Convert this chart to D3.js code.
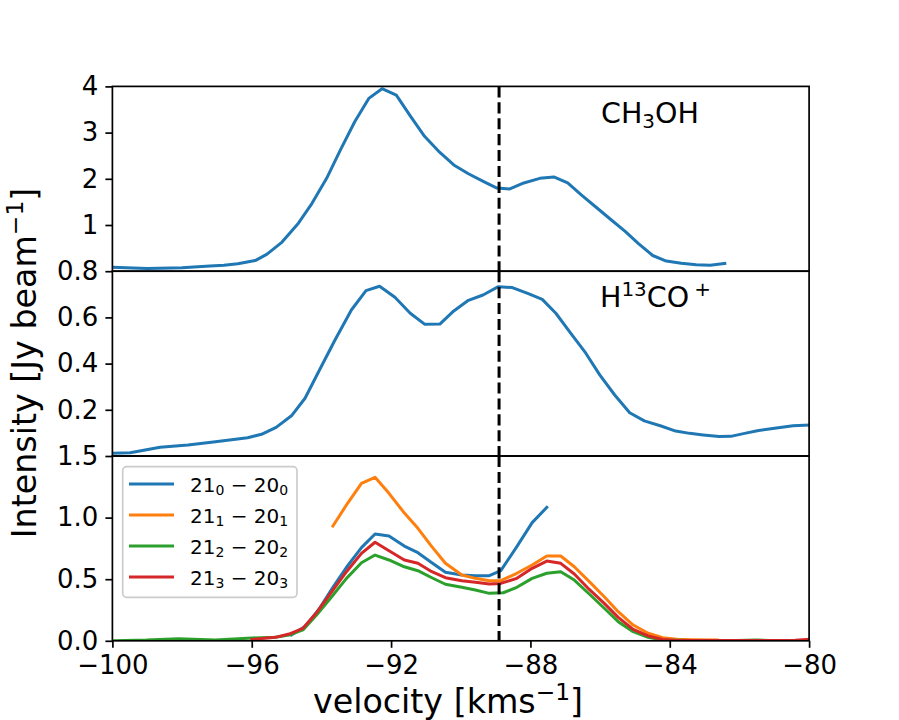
<!DOCTYPE html>
<html>
<head>
<meta charset="utf-8">
<script src="https://cdn.jsdelivr.net/npm/d3@7"></script>
<style>
body { margin: 0; background: #fff; }
svg { display: block; font-family: "DejaVu Sans", sans-serif; }
</style>
</head>
<body>
<div id="container"></div>
<script>
// top panel: CH3OH
const velCH3OH = [-100, -99.0, -98.0, -97.2, -96.8, -96.4, -95.9, -95.56, -95.13, -94.66, -94.27, -93.85, -93.45, -93.04, -92.64, -92.26, -91.85, -91.44, -91.04, -90.6, -90.2, -89.78, -89.34, -88.96, -88.59, -88.19, -87.73, -87.33, -86.93, -86.54, -86.14, -85.71, -85.28, -84.89, -84.49, -84.1, -83.67, -83.24, -82.84, -82.42];
const intCH3OH = [0.085, 0.06, 0.075, 0.11, 0.13, 0.16, 0.23, 0.37, 0.63, 1.04, 1.47, 2.01, 2.63, 3.24, 3.74, 3.95, 3.81, 3.35, 2.92, 2.57, 2.30, 2.11, 1.94, 1.80, 1.78, 1.91, 2.01, 2.04, 1.91, 1.65, 1.40, 1.13, 0.86, 0.59, 0.34, 0.22, 0.17, 0.14, 0.13, 0.17];

// middle panel: H13CO+
const velH13CO = [-100, -99.49, -98.63, -97.83, -97.04, -96.12, -95.72, -95.3, -94.86, -94.47, -94.07, -93.61, -93.14, -92.72, -92.33, -91.89, -91.45, -91.03, -90.6, -90.2, -89.78, -89.36, -88.92, -88.52, -88.06, -87.66, -87.27, -86.84, -86.41, -86.01, -85.58, -85.15, -84.73, -84.25, -83.83, -83.43, -83.04, -82.58, -82.25, -81.85, -81.45, -80.99, -80.46, -80.0];
const intH13CO = [0.012, 0.014, 0.038, 0.048, 0.062, 0.079, 0.094, 0.124, 0.174, 0.25, 0.368, 0.502, 0.632, 0.716, 0.735, 0.687, 0.618, 0.570, 0.571, 0.628, 0.674, 0.697, 0.733, 0.729, 0.703, 0.678, 0.618, 0.531, 0.445, 0.351, 0.264, 0.187, 0.152, 0.130, 0.108, 0.098, 0.091, 0.084, 0.085, 0.098, 0.110, 0.120, 0.131, 0.134];

// bottom panel: four transitions
const vel210 = [-94.86, -94.47, -94.07, -93.67, -93.28, -92.85, -92.46, -92.06, -91.62, -91.23, -90.83, -90.44, -89.97, -89.58, -89.18, -88.85, -88.39, -87.95, -87.53];
const int210 = [0.047, 0.115, 0.256, 0.434, 0.597, 0.756, 0.867, 0.851, 0.769, 0.715, 0.634, 0.556, 0.534, 0.529, 0.529, 0.569, 0.764, 0.959, 1.083];

const vel211 = [-93.67, -93.25, -92.85, -92.46, -92.06, -91.65, -91.23, -90.83, -90.44, -89.97, -89.58, -89.18, -88.85, -88.39, -87.95, -87.53, -87.13, -86.74, -86.31, -85.88, -85.48, -85.05, -84.62, -84.2, -83.8, -83.37, -82.64];
const int211 = [0.932, 1.116, 1.278, 1.327, 1.197, 1.048, 0.913, 0.764, 0.629, 0.534, 0.507, 0.488, 0.488, 0.548, 0.615, 0.688, 0.688, 0.601, 0.480, 0.358, 0.236, 0.128, 0.061, 0.025, 0.012, 0.009, 0.006];

const vel212 = [-99.95, -99.02, -98.1, -97.04, -95.99, -95.32, -94.93, -94.53, -94.14, -93.74, -93.28, -92.85, -92.46, -92.06, -91.62, -91.23, -90.83, -90.44, -89.97, -89.58, -89.18, -88.78, -88.39, -87.95, -87.53, -87.13, -86.74, -86.31, -85.88, -85.48, -85.05, -84.62, -84.2, -83.4, -82.4, -81.5, -81.0];
const int212 = [0.001, 0.006, 0.017, 0.006, 0.023, 0.028, 0.047, 0.088, 0.209, 0.345, 0.507, 0.634, 0.696, 0.656, 0.601, 0.569, 0.512, 0.459, 0.434, 0.412, 0.385, 0.390, 0.434, 0.507, 0.548, 0.561, 0.493, 0.380, 0.264, 0.155, 0.074, 0.028, 0.006, 0.002, 0.001, 0.006, 0.001];

const vel213 = [-96.0, -95.32, -94.93, -94.53, -94.14, -93.67, -93.28, -92.85, -92.46, -92.06, -91.62, -91.23, -90.83, -90.44, -89.97, -89.58, -89.18, -88.85, -88.39, -87.95, -87.53, -87.13, -86.74, -86.31, -85.88, -85.48, -85.05, -84.62, -84.2, -83.8, -82.0, -80.4, -80.0];
const int213 = [0.01, 0.028, 0.055, 0.101, 0.228, 0.412, 0.561, 0.71, 0.80, 0.731, 0.656, 0.629, 0.561, 0.512, 0.488, 0.475, 0.461, 0.466, 0.507, 0.588, 0.647, 0.629, 0.542, 0.417, 0.304, 0.19, 0.093, 0.039, 0.011, 0.003, 0.002, 0.004, 0.012];

const xTicks = [-100, -96, -92, -88, -84, -80];
const vSystemic = -88.9;

const width = 899, height = 720;
const mLeft = 112.4, mRight = 809.1, mTop = 86.4, mBottom = 640.8;
const panelH = (mBottom - mTop) / 3;
const tickFont = 26;
const labelFont = 33.3;
const colors = ['#1f77b4', '#ff7f0e', '#2ca02c', '#d62728'];

const svg = d3.select('#container').append('svg')
    .attr('width', width)
    .attr('height', height);

const x = d3.scaleLinear().domain([-100, -80]).range([mLeft, mRight]);

// append text made of parts, with sub/superscripts like mathtext
function mathText(sel, parts, size) {
    let shift = 0;
    parts.forEach(p => {
        let target = 0;
        let fs = size;
        if (p.sub) { target = 0.17 * size; fs = 0.7 * size; }
        if (p.sup) { target = -0.38 * size; fs = 0.7 * size; }
        sel.append('tspan')
            .attr('dy', target - shift)
            .attr('dx', p.dx || 0)
            .attr('font-size', fs)
            .text(p.t);
        shift = target;
    });
}

const panels = [
    { domain: [0, 4], ticks: [1, 2, 3, 4], fmt: d3.format('d'),
      series: [{ v: velCH3OH, y: intCH3OH, c: colors[0] }] },
    { domain: [0, 0.8], ticks: [0.2, 0.4, 0.6, 0.8], fmt: d3.format('.1f'),
      series: [{ v: velH13CO, y: intH13CO, c: colors[0] }] },
    { domain: [0, 1.5], ticks: [0, 0.5, 1.0, 1.5], fmt: d3.format('.1f'),
      series: [
          { v: vel210, y: int210, c: colors[0] },
          { v: vel211, y: int211, c: colors[1] },
          { v: vel212, y: int212, c: colors[2] },
          { v: vel213, y: int213, c: colors[3] }
      ] }
];

panels.forEach((p, k) => {
    const y0 = mTop + k * panelH;
    const y = d3.scaleLinear().domain(p.domain).range([y0 + panelH, y0]);
    const g = svg.append('g');

    g.append('clipPath').attr('id', `clip-${k}`)
        .append('rect')
        .attr('x', mLeft).attr('y', y0)
        .attr('width', mRight - mLeft).attr('height', panelH);

    const line = d3.line().x(d => x(d[0])).y(d => y(d[1]));
    const plot = g.append('g').attr('clip-path', `url(#clip-${k})`);
    p.series.forEach(s => {
        plot.append('path')
            .datum(s.v.map((v, i) => [v, s.y[i]]))
            .attr('d', line)
            .attr('fill', 'none')
            .attr('stroke', s.c)
            .attr('stroke-width', 3)
            .attr('stroke-linejoin', 'round')
            .attr('stroke-linecap', 'square');
    });

    // systemic velocity
    g.append('line')
        .attr('x1', x(vSystemic)).attr('x2', x(vSystemic))
        .attr('y1', y0).attr('y2', y0 + panelH)
        .attr('stroke', '#000')
        .attr('stroke-width', 3)
        .attr('stroke-dasharray', '11.1,4.8');

    const yAxis = g.append('g')
        .attr('transform', `translate(${mLeft},0)`)
        .call(d3.axisLeft(y).tickValues(p.ticks).tickFormat(p.fmt).tickSize(7).tickPadding(7).tickSizeOuter(0));
    yAxis.select('.domain').remove();
    yAxis.selectAll('line').attr('stroke', '#000').attr('stroke-width', 1.7);
    yAxis.selectAll('text')
        .attr('font-size', tickFont)
        .attr('font-family', 'DejaVu Sans')
        .attr('fill', '#000');

    if (k === 2) {
        const xAxis = g.append('g')
            .attr('transform', `translate(0,${mBottom})`)
            .call(d3.axisBottom(x).tickValues(xTicks).tickFormat(d3.format('d')).tickSize(7).tickPadding(8).tickSizeOuter(0));
        xAxis.select('.domain').remove();
        xAxis.selectAll('line').attr('stroke', '#000').attr('stroke-width', 1.7);
        xAxis.selectAll('text')
            .attr('font-size', tickFont)
            .attr('font-family', 'DejaVu Sans')
            .attr('fill', '#000');
    }

    g.append('rect')
        .attr('x', mLeft).attr('y', y0)
        .attr('width', mRight - mLeft).attr('height', panelH)
        .attr('fill', 'none')
        .attr('stroke', '#000')
        .attr('stroke-width', 1.7);
});

// molecule labels
mathText(svg.append('text').attr('x', 601).attr('y', 123).attr('font-size', 28.5),
    [{ t: 'CH' }, { t: '3', sub: true }, { t: 'OH' }], 28.5);
mathText(svg.append('text').attr('x', 600).attr('y', 307).attr('font-size', 28.5),
    [{ t: 'H' }, { t: '13', sup: true }, { t: 'CO' }, { t: '+', sup: true, dx: 5 }], 28.5);

// legend
const legendLabels = [
    [{ t: '21' }, { t: '0', sub: true }, { t: ' − 20' }, { t: '0', sub: true }],
    [{ t: '21' }, { t: '1', sub: true }, { t: ' − 20' }, { t: '1', sub: true }],
    [{ t: '21' }, { t: '2', sub: true }, { t: ' − 20' }, { t: '2', sub: true }],
    [{ t: '21' }, { t: '3', sub: true }, { t: ' − 20' }, { t: '3', sub: true }]
];
const legend = svg.append('g');
legend.append('rect')
    .attr('x', 122.7).attr('y', 466.7)
    .attr('width', 174.3).attr('height', 130.6)
    .attr('rx', 4)
    .attr('fill', '#fff').attr('fill-opacity', 0.8)
    .attr('stroke', '#cccccc').attr('stroke-width', 1.7);
legendLabels.forEach((parts, i) => {
    const ly = 484 + i * 31;
    legend.append('line')
        .attr('x1', 129).attr('x2', 174)
        .attr('y1', ly).attr('y2', ly)
        .attr('stroke', colors[i]).attr('stroke-width', 3);
    mathText(legend.append('text').attr('x', 190).attr('y', ly + 7.5).attr('font-size', 20), parts, 20);
});

// axis labels
mathText(svg.append('text')
    .attr('x', 448).attr('y', 712.5)
    .attr('text-anchor', 'middle')
    .attr('font-size', labelFont),
    [{ t: 'velocity [kms' }, { t: '−1', sup: true }, { t: ']' }], labelFont);

mathText(svg.append('text')
    .attr('transform', 'translate(36,363) rotate(-90)')
    .attr('text-anchor', 'middle')
    .attr('font-size', labelFont),
    [{ t: 'Intensity [Jy beam' }, { t: '−1', sup: true }, { t: ']' }], labelFont);
</script>
</body>
</html>
